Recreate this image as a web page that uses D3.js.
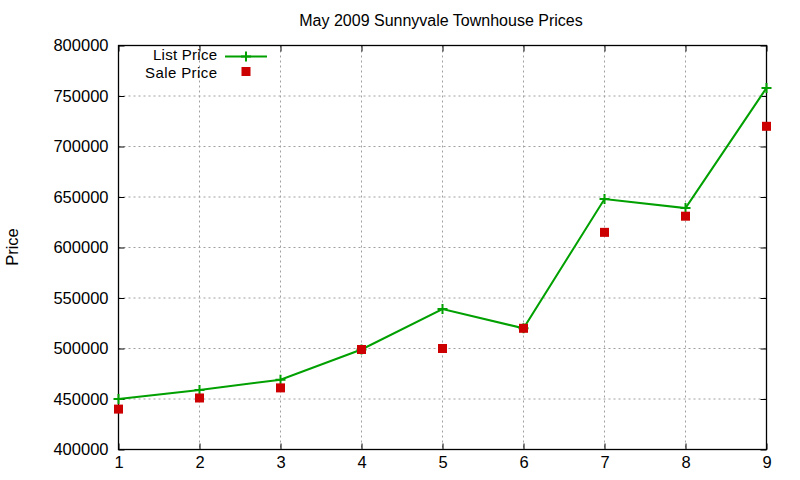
<!DOCTYPE html>
<html><head><meta charset="utf-8">
<script src="https://cdn.jsdelivr.net/npm/d3@7"></script>
<style>body{margin:0;background:#fff}svg{display:block}text{font-family:"Liberation Sans",Arial,sans-serif}</style>
</head><body><svg id="c" width="800" height="480"></svg>
<script>
const months = [1,2,3,4,5,6,7,8,9];
const listPrice = [450000,459000,469000,499000,539000,520000,648000,639000,758000];
const salePrice = [440000,451000,461000,499000,500000,520000,615000,631000,720000];
const yTicks = [400000,450000,500000,550000,600000,650000,700000,750000,800000];
const title = "May 2009 Sunnyvale Townhouse Prices";
const yLabel = "Price";
const seriesNames = ["List Price","Sale Price"];

const svg = d3.select("#c");
const L=118.5, R=766.5, T=45.5, B=449.5;
const x = d3.scaleLinear().domain([1,9]).range([L,R]);
const y = d3.scaleLinear().domain([400000,800000]).range([B,T]);

// grid
const g = svg.append("g");
g.selectAll(".gx").data(months.slice(1,-1)).join("line")
 .attr("x1",d=>x(d)).attr("x2",d=>x(d)).attr("y1",T).attr("y2",B)
 .attr("stroke","#a0a0a0").attr("stroke-dasharray","2,3").attr("stroke-width",1);
g.selectAll(".gy").data(yTicks.slice(1,-1)).join("line")
 .attr("x1",L).attr("x2",R).attr("y1",d=>y(d)).attr("y2",d=>y(d))
 .attr("stroke","#a0a0a0").attr("stroke-dasharray","2,3").attr("stroke-width",1);

// axes
const ax = svg.append("g").attr("transform",`translate(0,${B})`)
 .call(d3.axisBottom(x).tickValues(months).tickFormat(d3.format("d")).tickSizeInner(-6).tickSizeOuter(0).tickPadding(7));
const axT = svg.append("g").attr("transform",`translate(0,${T})`)
 .call(d3.axisTop(x).tickValues(months).tickFormat("").tickSizeInner(-6).tickSizeOuter(0));
const ay = svg.append("g").attr("transform",`translate(${L},0)`)
 .call(d3.axisLeft(y).tickValues(yTicks).tickFormat(d3.format("d")).tickSizeInner(-6).tickSizeOuter(0).tickPadding(10));
const ayR = svg.append("g").attr("transform",`translate(${R},0)`)
 .call(d3.axisRight(y).tickValues(yTicks).tickFormat("").tickSizeInner(-6).tickSizeOuter(0));
[ax,axT,ay,ayR].forEach(a=>{a.select(".domain").remove();a.selectAll("line").attr("stroke","#000");a.selectAll("text").attr("font-size",16.5).attr("fill","#000").style("font-family","Liberation Sans, Arial, sans-serif");});
svg.append("rect").attr("x",L).attr("y",T).attr("width",R-L).attr("height",B-T).attr("fill","none").attr("stroke","#000").attr("stroke-width",1.3);

// series
const line = d3.line().x((d,i)=>x(months[i])).y(d=>y(d));
svg.append("path").datum(listPrice).attr("d",line).attr("fill","none").attr("stroke","#00a000").attr("stroke-width",2);
svg.selectAll(".lp").data(listPrice).join("path")
 .attr("d",(d,i)=>`M${x(months[i])-5},${y(d)}h10M${x(months[i])},${y(d)-5}v10`)
 .attr("stroke","#00a000").attr("stroke-width",2);
svg.selectAll(".sp").data(salePrice).join("rect")
 .attr("x",(d,i)=>x(months[i])-4.5).attr("y",d=>y(d)-4.5).attr("width",9).attr("height",9).attr("fill","#cc0000");

// legend
svg.append("text").attr("x",217).attr("y",60).attr("text-anchor","end").attr("font-size",15).attr("textLength",64).text(seriesNames[0]);
svg.append("text").attr("x",217).attr("y",77.5).attr("text-anchor","end").attr("font-size",15).attr("textLength",72).text(seriesNames[1]);
svg.append("line").attr("x1",225).attr("x2",267).attr("y1",56.5).attr("y2",56.5).attr("stroke","#00a000").attr("stroke-width",2);
svg.append("path").attr("d","M241,56.5h10M246,51.5v10").attr("stroke","#00a000").attr("stroke-width",2);
svg.append("rect").attr("x",241.5).attr("y",67).attr("width",9).attr("height",9).attr("fill","#cc0000");

// title and y label
svg.append("text").attr("x",441).attr("y",26).attr("text-anchor","middle").attr("font-size",16).text(title);
svg.append("text").attr("transform","translate(18,247) rotate(-90)").attr("text-anchor","middle").attr("font-size",16.5).text(yLabel);
</script></body></html>
